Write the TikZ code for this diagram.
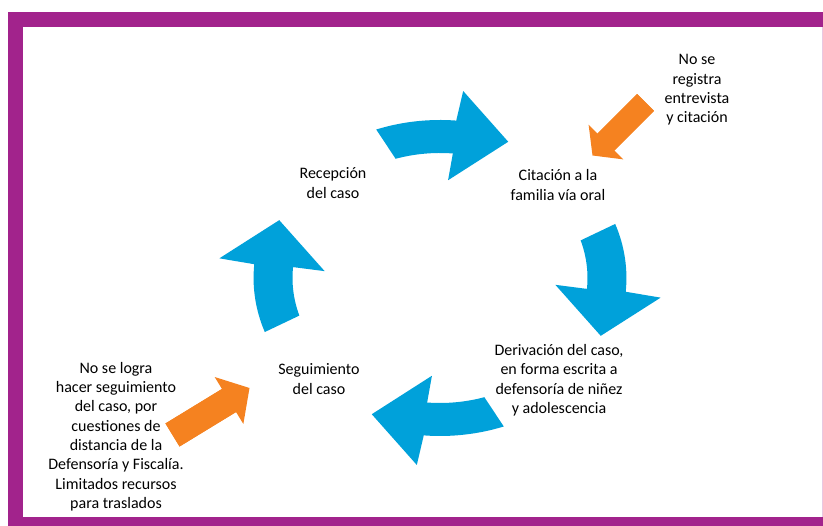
\documentclass[tikz,border=0pt]{standalone}
\usepackage{fontspec}
\setmainfont{Carlito}
\usepackage{tikz}
\usetikzlibrary{arrows.meta,calc,positioning}
\definecolor{frame}{RGB}{162,35,140}
\definecolor{cyc}{RGB}{0,161,218}
\definecolor{warn}{RGB}{245,130,32}

\begin{document}
\begin{tikzpicture}[x=1pt,y=1pt,
  txt/.style={align=center, inner sep=0pt, font=\fontsize{16}{19.5}\selectfont},
  cycarrow/.style={fill=cyc, draw=none},
  warnarrow/.style={draw=warn, line width=#1}]
  \tikzstyle{note}=[txt, font=\fontsize{16}{19.3}\selectfont]
  \useasboundingbox (0,0) rectangle (823,526);

  % frame
  \fill[frame] (8,0) rectangle (823,514);
  \fill[white] (23,9) rectangle (822,499);
  \fill[frame!25] (822,9) rectangle (823,499);

  % cycle
  \begin{scope}[shift={(440,248)}, xscale=1.18]
    \foreach \a in {90,0,-90,180}
      \fill[cycarrow] ({\a+20}:158pt) arc[start angle=\a+20, end angle=\a-5, radius=158pt]
        -- ({\a-6}:188pt) -- ({\a-23}:148pt) -- ({\a-4}:98pt) -- ({\a-5}:125pt)
        arc[start angle=\a-5, end angle=\a+17.5, radius=125pt] -- cycle;
  \end{scope}

  \node[txt] (rec) at (333,343) {Recepción\\del caso};
  \node[txt] (cit) at (558,341) {Citación a la\\familia vía oral};
  \node[txt] (der) at (559,146) {Derivación del caso,\\en forma escrita a\\defensoría de niñez\\y adolescencia};
  \node[txt] (seg) at (319,147) {Seguimiento\\del caso};

  % observaciones
  \node[note] (obs1) at (697,436) {No se\\registra\\entrevista\\y citación};
  \node[note] (obs2) at (116,89.5) {No se logra\\hacer seguimiento\\del caso, por\\cuestiones de\\distancia de la\\Defensoría y Fiscalía.\\Limitados recursos\\para traslados};

  \coordinate (t1) at (645.5,423.5);
  \coordinate (p1) at (592.5,370.5);
  \coordinate (t2) at (172.5,91);
  \coordinate (p2) at (249.5,138);
  \draw[warnarrow=24pt, -{Triangle[width=49pt,length=19pt,line width=0pt]}] (t1) -- (p1);
  \draw[warnarrow=24pt] (t1) -- ($(t1)!0.8!(p1)$);
  \draw[warnarrow=27pt, -{Triangle[width=55pt,length=24pt,line width=0pt]}] (t2) -- (p2);
  \draw[warnarrow=27pt] (t2) -- ($(t2)!0.8!(p2)$);
\end{tikzpicture}
\end{document}
